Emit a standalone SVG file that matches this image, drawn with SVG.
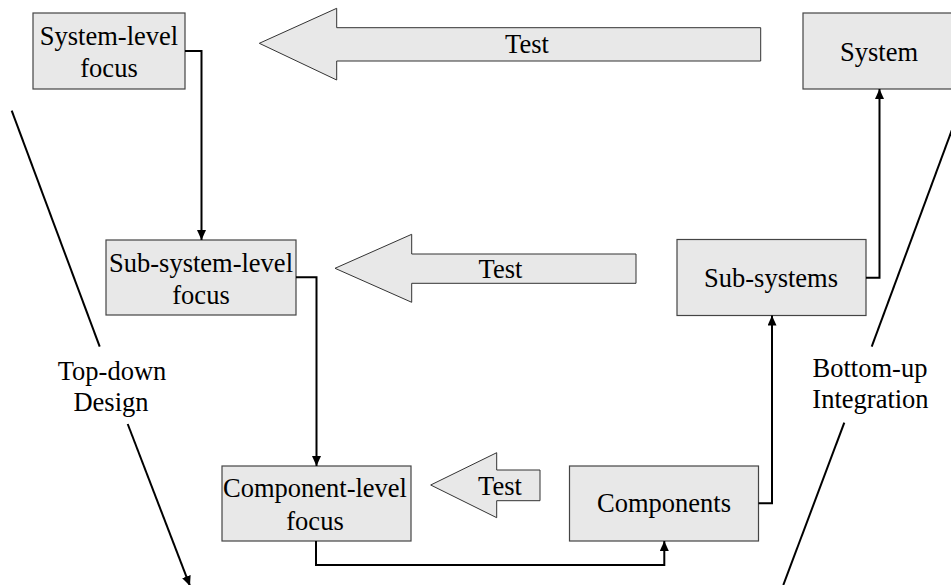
<svg xmlns="http://www.w3.org/2000/svg" width="951" height="585" viewBox="0 0 951 585">
<defs>
<style>
.box{fill:#e8e8e8;stroke:#444;stroke-width:1.2}
.arr{fill:#e8e8e8;stroke:#333;stroke-width:1}
text{font-family:'Liberation Serif','Times New Roman',serif;font-size:26.5px;fill:#000;text-anchor:middle}
.c{fill:none;stroke:#000;stroke-width:2}
</style>
<marker id="ah" markerUnits="userSpaceOnUse" markerWidth="12" markerHeight="10" refX="10" refY="4.5" orient="auto">
<path d="M0,0 L10,4.5 L0,9 z" fill="#000"/>
</marker>
</defs>
<rect width="951" height="585" fill="#fff"/>

<g id="system-level-focus">
<rect class="box" x="33" y="13" width="152" height="76"/>
<text x="109" y="45">System-level</text>
<text x="109" y="77">focus</text>
</g>
<g id="sub-system-level-focus">
<rect class="box" x="106" y="240" width="190" height="75"/>
<text x="201" y="272">Sub-system-level</text>
<text x="201" y="304">focus</text>
</g>
<g id="component-level-focus">
<rect class="box" x="222" y="466" width="189" height="75"/>
<text x="315" y="497">Component-level</text>
<text x="315" y="530">focus</text>
</g>
<g id="components">
<rect class="box" x="569.5" y="466" width="189" height="75"/>
<text x="664" y="512">Components</text>
</g>
<g id="sub-systems">
<rect class="box" x="677" y="239.5" width="189" height="76"/>
<text x="771" y="287">Sub-systems</text>
</g>
<g id="system">
<rect class="box" x="803" y="13" width="154" height="76"/>
<text x="879" y="61">System</text>
</g>

<g id="test-top">
<polygon class="arr" points="259.3,43.3 336.7,8.3 336.7,27.7 760.7,27.7 760.7,61 336.7,61 336.7,80"/>
<text x="527" y="53">Test</text>
</g>
<g id="test-mid">
<polygon class="arr" points="335,268.3 411.7,234.3 411.7,254 636,254 636,283.3 411.7,283.3 411.7,302.3"/>
<text x="500.5" y="277.5">Test</text>
</g>
<g id="test-bottom">
<polygon class="arr" points="430.7,485 496.7,452.7 496.7,470 540,470 540,500.7 496.7,500.7 496.7,517.7"/>
<text x="500" y="495">Test</text>
</g>

<g id="top-down-label">
<text x="112" y="380">Top-down</text>
<text x="111" y="411">Design</text>
</g>
<g id="bottom-up-label">
<text x="870" y="377">Bottom-up</text>
<text x="870.5" y="408">Integration</text>
</g>

<g id="connectors">
<path class="c" d="M185,51 H201.5 V240" marker-end="url(#ah)"/>
<path class="c" d="M296,277.3 H316.5 V466" marker-end="url(#ah)"/>
<path class="c" d="M316,541 V565 H664.3 V541" marker-end="url(#ah)"/>
<path class="c" d="M758.5,503.3 H772 V315.5" marker-end="url(#ah)"/>
<path class="c" d="M866,277.7 H879.5 V89" marker-end="url(#ah)"/>
<path class="c" d="M11.7,110.7 L99.7,346.7"/>
<path class="c" d="M127.7,424 L190,586" marker-end="url(#ah)"/>
<path class="c" d="M953,127 L871.7,346.7"/>
<path class="c" d="M844.3,422.7 L783.3,585"/>
</g>
</svg>
